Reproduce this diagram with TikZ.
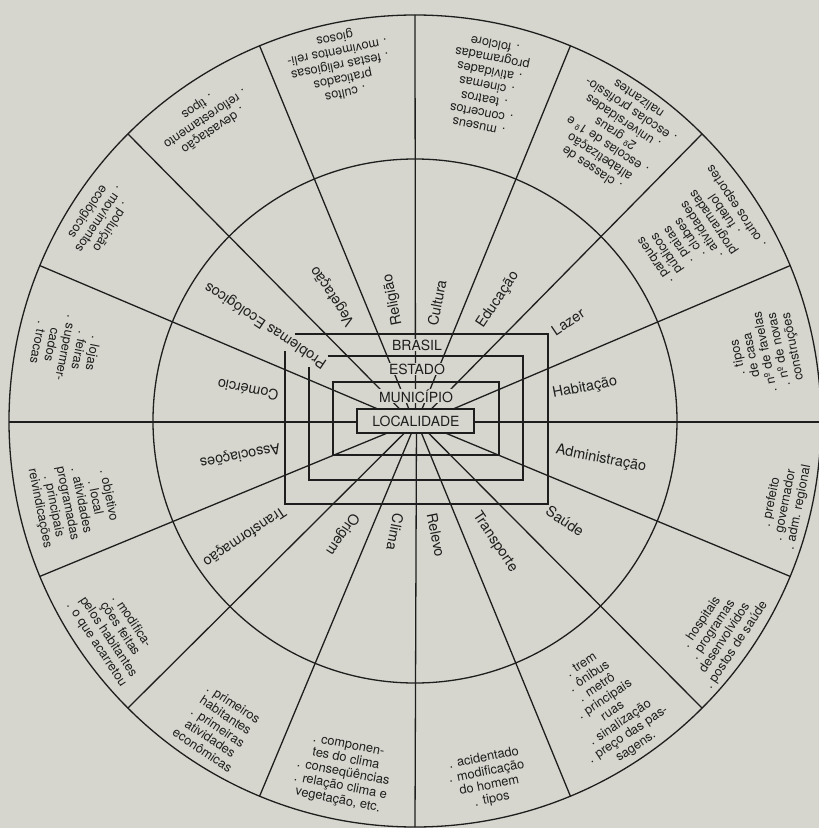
\documentclass[tikz,border=0pt]{standalone}
\usepackage{fontspec}
\setmainfont{TeX Gyre Heros}
\definecolor{bg}{RGB}{214,214,206}
\definecolor{ink}{RGB}{30,30,30}
\tikzset{
  ln/.style={draw=ink, line width=1.3pt},
  inlab/.style={font=\fontsize{14.5}{16}\selectfont, text=ink, inner sep=0pt},
  outtxt/.style={font=\fontsize{12.8}{14}\selectfont, text=ink, align=center, inner sep=0pt},
  boxlab/.style={font=\fontsize{14}{16}\selectfont, text=ink, fill=bg, inner sep=0.6pt},
}
\begin{document}
\begin{tikzpicture}[x=1pt,y=1pt]
\fill[bg] (-415,-407) rectangle (404,421);
\useasboundingbox (-415,-407) rectangle (404,421);
% convergence points
\coordinate (ctop) at (0.5,-4);
\coordinate (cbot) at (1.5,0);
% circles
\draw[ln] (0,0) circle (406);
\draw[ln] (0,0) circle (262);
% spokes
\foreach \j in {0,1,2,3,13,14,15} {
  \coordinate (s\j) at ({90-22.5*\j}:406);
  \draw[ln] (s\j) -- (ctop);
}
\foreach \j in {5,6,7,8,9,10,11} {
  \coordinate (s\j) at ({90-22.5*\j}:406);
  \draw[ln] (s\j) -- (cbot);
}
\coordinate (hl) at (-406,-1);
\coordinate (hr) at (406,-1);
\draw[ln] (hl) -- (hr);
% nested boxes
\draw[ln] (-120,87) -- (133,87) -- (133,-83) -- (-130,-83) -- (-130,70);
\draw[ln] (-87,65) -- (108,65) -- (108,-59) -- (-106,-59) -- (-106,54);
\draw[ln] (-82,-34) rectangle (84,39);
\draw[ln,fill=bg] (-58,-12) rectangle (59,12);
\node[boxlab] (brasil) at (2,76) {BRASIL};
\node[boxlab] (estado) at (2,52) {ESTADO};
\node[boxlab] (municipio) at (1,25) {MUNICÍPIO};
\node[boxlab] (localidade) at (1,0) {LOCALIDADE};
% inner labels
\node[inlab, rotate=78.75] (lcul) at (22,118) {Cultura};
\node[inlab, rotate=56.25] (ledu) at (83,121) {Educação};
\node[inlab, rotate=33.75] (llaz) at (153,99) {Lazer};
\node[inlab, rotate=11.25] (lhab) at (170,33) {Habitação};
\node[inlab, rotate=-11.25] (ladm) at (186,-38) {Administração};
\node[inlab, rotate=-33.75] (lsau) at (150,-100) {Saúde};
\node[inlab, rotate=-56.25] (ltra) at (80,-121) {Transporte};
\node[inlab, rotate=-78.75] (lrel) at (21,-114) {Relevo};
\node[inlab, rotate=-101.25] (lcli) at (-20,-111) {Clima};
\node[inlab, rotate=-123.75] (lori) at (-73,-113) {Origem};
\node[inlab, rotate=-146.25] (ltrf) at (-171,-115) {Transformação};
\node[inlab, rotate=-168.75] (lass) at (-175,-34) {Associações};
\node[inlab, rotate=168.75] (lcom) at (-167,31) {Comércio};
\node[inlab, rotate=146.25] (lpro) at (-149,96) {Problemas Ecológicos};
\node[inlab, rotate=123.75] (lveg) at (-82,125) {Vegetação};
\node[inlab, rotate=101.25] (lrlg) at (-22,121) {Religião};
% outer texts
\node[outtxt, rotate=168.75] (tcul) at (72,336) {. museus\\. concertos\\. teatros\\. cinemas\\. atividades\\programadas\\. folclore};
\node[outtxt, rotate=146.25] (tedu) at (200,287) {. classes de\\alfabetização\\. escolas de 1º e\\2º graus\\. universidades\\. escolas profissio-\\nalizantes};
\node[outtxt, rotate=123.75] (tlaz) at (282,188) {. parques\\públicos\\. praias\\. clubes\\. atividades\\programadas\\. futebol\\. outros esportes};
\node[outtxt, rotate=101.25] (thab) at (351,69) {. tipos\\de casa\\. nº de favelas\\. nº de novas\\construções};
\node[outtxt, rotate=78.75] (tadm) at (370,-84) {. prefeito\\. governador\\. adm. regional};
\node[outtxt, rotate=56.25] (tsau) at (304,-213) {. hospitais\\. programas\\desenvolvidos\\. postos de saúde};
\node[outtxt, rotate=33.75] (ttra) at (194,-285) {. trem\\. ônibus\\. metrô\\. principais\\ruas\\. sinalização\\. preço das pas-\\sagens.};
\node[outtxt, rotate=11.25] (trel) at (73,-358) {. acidentado\\. modificação\\do homem\\. tipos};
\node[outtxt, rotate=-11.25] (tcli) at (-72,-353) {. componen-\\tes do clima\\. conseqüências\\. relação clima e\\vegetação, etc.};
\node[outtxt, rotate=-33.75] (tori) at (-197,-306) {. primeiros\\habitantes\\. primeiras\\atividades\\econômicas};
\node[outtxt, rotate=-56.25] (ttrf) at (-301,-212) {. modifica-\\ções feitas\\pelos habitantes\\. o que acarretou};
\node[outtxt, rotate=-78.75] (tass) at (-341,-81) {. objetivo\\. local\\. atividades\\programadas\\. principais\\reivindicações};
\node[outtxt, rotate=-101.25] (tcom) at (-349,73) {. lojas\\. feiras\\. supermer-\\cados\\. trocas};
\node[outtxt, rotate=-123.75] (tpro) at (-316,202) {. poluição\\. movimentos\\ecológicos};
\node[outtxt, rotate=-146.25] (tveg) at (-210,303) {. devastação\\. reflorestamento\\. tipos};
\node[outtxt, rotate=-168.75] (trlg) at (-75,356) {. cultos\\praticados\\. festas religiosas\\. movimentos reli-\\giosos};
\end{tikzpicture}
\end{document}
